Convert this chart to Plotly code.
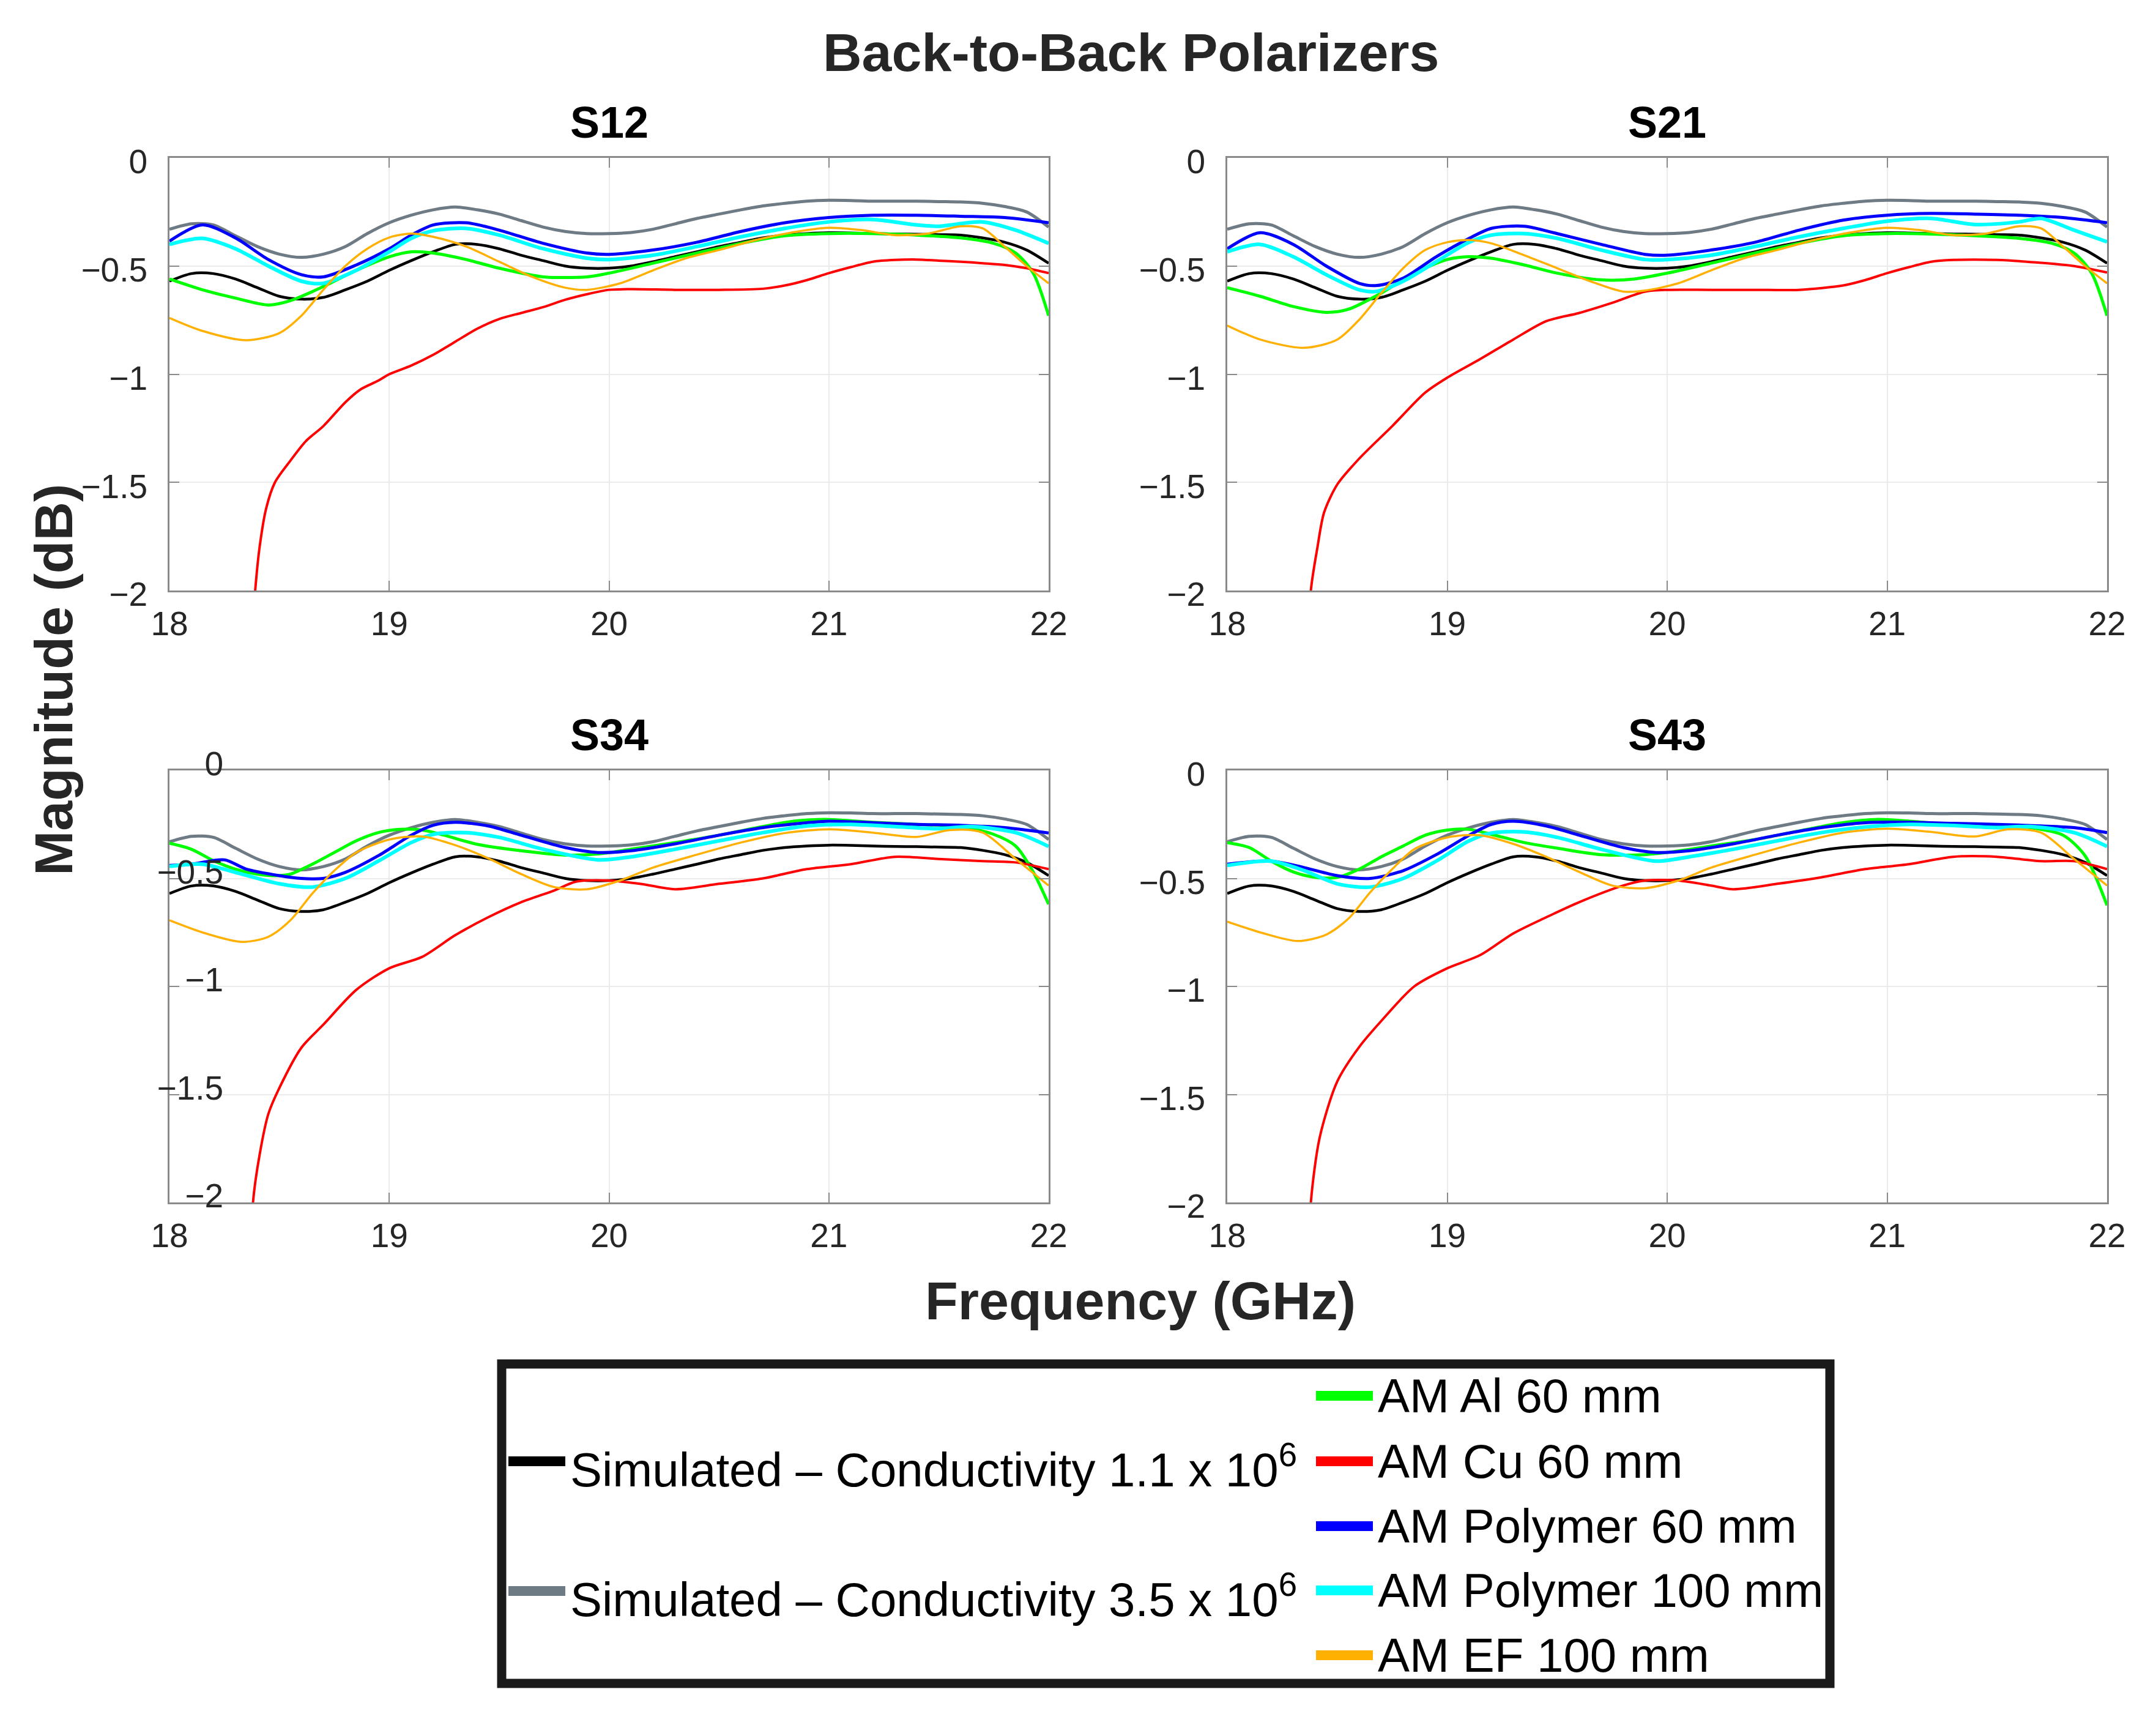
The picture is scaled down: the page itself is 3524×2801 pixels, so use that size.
import plotly.graph_objects as go

# --- simulated curves (same in every panel) ---
freq_sim = [18.0, 18.1, 18.2, 18.3, 18.4, 18.5, 18.6, 18.7, 18.8, 18.9,
            19.0, 19.1, 19.2, 19.3, 19.4, 19.5, 19.6, 19.7, 19.8, 19.9,
            20.0, 20.1, 20.2, 20.3, 20.4, 20.5, 20.6, 20.7, 20.8, 20.9,
            21.0, 21.1, 21.2, 21.3, 21.4, 21.5, 21.6, 21.7, 21.8, 21.9, 22.0]
sim_11 = [-0.57, -0.535, -0.535, -0.56, -0.60, -0.64, -0.653, -0.645, -0.61, -0.57,
          -0.52, -0.475, -0.434, -0.40, -0.40, -0.42, -0.45, -0.475, -0.50, -0.51,
          -0.51, -0.50, -0.48, -0.457, -0.434, -0.41, -0.39, -0.37, -0.357, -0.35,
          -0.346, -0.347, -0.35, -0.352, -0.353, -0.355, -0.357, -0.37, -0.39, -0.426, -0.487]
sim_35 = [-0.33, -0.305, -0.31, -0.36, -0.41, -0.445, -0.46, -0.445, -0.41, -0.35,
          -0.30, -0.265, -0.24, -0.227, -0.24, -0.26, -0.29, -0.32, -0.34, -0.35,
          -0.35, -0.345, -0.33, -0.305, -0.28, -0.26, -0.24, -0.222, -0.21, -0.20,
          -0.196, -0.197, -0.20, -0.20, -0.20, -0.202, -0.204, -0.21, -0.225, -0.25, -0.32]

# --- S12 measured ---
s12_al_f = [18.0, 18.15, 18.3, 18.45, 18.55, 18.7, 18.85, 19.0, 19.1, 19.2, 19.35, 19.5, 19.7, 19.9,
            20.0, 20.2, 20.4, 20.6, 20.8, 21.0, 21.2, 21.4, 21.6, 21.75, 21.85, 21.93, 22.0]
s12_al_db = [-0.56, -0.61, -0.648, -0.68, -0.66, -0.595, -0.52, -0.457, -0.434, -0.44, -0.47, -0.51, -0.55, -0.55,
             -0.533, -0.487, -0.44, -0.395, -0.36, -0.35, -0.35, -0.357, -0.37, -0.395, -0.44, -0.533, -0.73]
s12_cu_f = [18.37, 18.39, 18.41, 18.44, 18.48, 18.55, 18.62, 18.7, 18.8, 18.87, 18.95, 19.0, 19.1, 19.2,
            19.3, 19.4, 19.5, 19.6, 19.7, 19.8, 19.9, 20.0, 20.1, 20.3, 20.5, 20.7, 20.8, 20.9, 21.0,
            21.1, 21.2, 21.3, 21.4, 21.5, 21.6, 21.7, 21.8, 21.9, 22.0]
s12_cu_db = [-2.3, -2.0, -1.8, -1.62, -1.5, -1.4, -1.31, -1.24, -1.13, -1.07, -1.03, -1.0, -0.96, -0.91,
             -0.85, -0.79, -0.745, -0.717, -0.69, -0.656, -0.63, -0.61, -0.607, -0.61, -0.61, -0.605, -0.59, -0.565, -0.533,
             -0.505, -0.48, -0.472, -0.47, -0.475, -0.48, -0.487, -0.495, -0.51, -0.533]
s12_p60_f = [18.0, 18.15, 18.3, 18.45, 18.6, 18.7, 18.85, 19.0, 19.1, 19.2, 19.35, 19.5, 19.7,
             19.9, 20.0, 20.2, 20.4, 20.6, 20.8, 21.0, 21.2, 21.4, 21.6, 21.8, 22.0]
s12_p60_db = [-0.385, -0.31, -0.37, -0.47, -0.54, -0.55, -0.495, -0.42, -0.357, -0.31, -0.30, -0.334, -0.395,
              -0.44, -0.446, -0.426, -0.39, -0.34, -0.30, -0.276, -0.265, -0.265, -0.27, -0.276, -0.30]
s12_p100_f = [18.0, 18.15, 18.3, 18.45, 18.6, 18.7, 18.85, 19.0, 19.1, 19.2, 19.35, 19.5, 19.7,
              19.9, 20.0, 20.2, 20.4, 20.6, 20.8, 21.0, 21.2, 21.4, 21.5, 21.7, 21.85, 22.0]
s12_p100_db = [-0.40, -0.372, -0.42, -0.50, -0.57, -0.58, -0.52, -0.434, -0.372, -0.337, -0.326, -0.357, -0.42,
               -0.464, -0.47, -0.45, -0.41, -0.365, -0.326, -0.296, -0.285, -0.31, -0.316, -0.296, -0.334, -0.395]
s12_ef_f = [18.0, 18.15, 18.35, 18.5, 18.6, 18.7, 18.8, 18.9, 19.0, 19.1, 19.2, 19.35, 19.5, 19.65, 19.8, 19.9,
            20.05, 20.2, 20.35, 20.5, 20.7, 20.9, 21.0, 21.15, 21.3, 21.45, 21.6, 21.7, 21.8, 21.9, 22.0]
s12_ef_db = [-0.74, -0.80, -0.843, -0.81, -0.73, -0.61, -0.50, -0.42, -0.368, -0.35, -0.365, -0.41, -0.48, -0.55, -0.60, -0.61,
             -0.58, -0.52, -0.464, -0.426, -0.372, -0.334, -0.323, -0.334, -0.357, -0.35, -0.316, -0.326, -0.41, -0.50, -0.58]

# --- S21 measured ---
s21_al_f = [18.0, 18.15, 18.3, 18.45, 18.55, 18.7, 18.85, 19.0, 19.1, 19.2, 19.35, 19.5, 19.7, 19.85,
            20.0, 20.2, 20.4, 20.6, 20.8, 21.0, 21.2, 21.4, 21.6, 21.75, 21.85, 21.93, 22.0]
s21_al_db = [-0.60, -0.64, -0.687, -0.714, -0.70, -0.625, -0.533, -0.47, -0.457, -0.464, -0.495, -0.533, -0.564, -0.56,
             -0.533, -0.487, -0.44, -0.395, -0.36, -0.35, -0.352, -0.36, -0.372, -0.395, -0.44, -0.533, -0.73]
s21_cu_f = [18.37, 18.38, 18.41, 18.44, 18.5, 18.6, 18.75, 18.9, 19.0, 19.15, 19.3, 19.45, 19.6, 19.75, 19.9,
            20.0, 20.2, 20.4, 20.6, 20.8, 20.9, 21.0, 21.1, 21.2, 21.3, 21.5, 21.7, 21.85, 22.0]
s21_cu_db = [-2.3, -2.0, -1.8, -1.64, -1.51, -1.39, -1.24, -1.085, -1.016, -0.93, -0.84, -0.755, -0.717, -0.67, -0.618,
             -0.61, -0.61, -0.61, -0.61, -0.59, -0.565, -0.533, -0.505, -0.48, -0.472, -0.472, -0.485, -0.50, -0.53]
s21_p60_f = [18.0, 18.15, 18.3, 18.45, 18.6, 18.68, 18.8, 18.95, 19.1, 19.2, 19.35, 19.5, 19.7,
             19.9, 20.0, 20.2, 20.4, 20.6, 20.8, 21.0, 21.2, 21.4, 21.6, 21.8, 22.0]
s21_p60_db = [-0.42, -0.346, -0.40, -0.50, -0.58, -0.59, -0.556, -0.457, -0.372, -0.326, -0.316, -0.35, -0.40,
              -0.446, -0.45, -0.426, -0.39, -0.334, -0.288, -0.265, -0.257, -0.26, -0.265, -0.276, -0.30]
s21_p100_f = [18.0, 18.15, 18.3, 18.45, 18.6, 18.68, 18.8, 18.95, 19.1, 19.2, 19.35, 19.5, 19.7,
              19.9, 20.0, 20.2, 20.4, 20.6, 20.8, 21.0, 21.2, 21.4, 21.6, 21.7, 21.85, 22.0]
s21_p100_db = [-0.434, -0.40, -0.457, -0.54, -0.61, -0.617, -0.57, -0.48, -0.39, -0.357, -0.35, -0.372, -0.426,
               -0.47, -0.47, -0.45, -0.41, -0.365, -0.326, -0.293, -0.28, -0.308, -0.296, -0.28, -0.334, -0.388]
s21_ef_f = [18.0, 18.15, 18.35, 18.5, 18.6, 18.7, 18.8, 18.9, 19.0, 19.1, 19.2, 19.35, 19.5, 19.65, 19.8, 19.9,
            20.05, 20.2, 20.35, 20.5, 20.7, 20.9, 21.0, 21.15, 21.3, 21.45, 21.6, 21.7, 21.8, 21.9, 22.0]
s21_ef_db = [-0.775, -0.84, -0.878, -0.84, -0.748, -0.625, -0.51, -0.426, -0.39, -0.38, -0.395, -0.45, -0.51, -0.57, -0.618, -0.613,
             -0.58, -0.52, -0.464, -0.426, -0.372, -0.334, -0.323, -0.334, -0.357, -0.35, -0.316, -0.326, -0.41, -0.50, -0.58]

# --- S34 measured ---
s34_al_f = [18.0, 18.1, 18.2, 18.3, 18.4, 18.5, 18.55, 18.65, 18.75, 18.85, 18.95, 19.05, 19.15, 19.25, 19.4,
            19.6, 19.8, 19.95, 20.1, 20.3, 20.5, 20.7, 20.85, 21.0, 21.2, 21.4, 21.6, 21.75, 21.85, 21.93, 22.0]
s34_al_db = [-0.337, -0.365, -0.418, -0.457, -0.48, -0.487, -0.48, -0.434, -0.38, -0.326, -0.288, -0.273, -0.276, -0.30, -0.342,
             -0.372, -0.392, -0.387, -0.365, -0.334, -0.30, -0.26, -0.234, -0.227, -0.24, -0.25, -0.26, -0.296, -0.35, -0.47, -0.62]
s34_cu_f = [18.37, 18.38, 18.41, 18.45, 18.5, 18.6, 18.7, 18.85, 19.0, 19.15, 19.3, 19.45, 19.6, 19.75, 19.85,
            20.0, 20.15, 20.3, 20.5, 20.7, 20.9, 21.1, 21.3, 21.5, 21.7, 21.85, 22.0]
s34_cu_db = [-2.3, -2.0, -1.78, -1.59, -1.47, -1.284, -1.177, -1.016, -0.916, -0.863, -0.763, -0.68, -0.61, -0.556, -0.515,
             -0.51, -0.526, -0.55, -0.525, -0.50, -0.457, -0.434, -0.40, -0.41, -0.42, -0.426, -0.457]
s34_p60_f = [18.0, 18.1, 18.25, 18.35, 18.5, 18.6, 18.7, 18.8, 18.95, 19.1, 19.2, 19.3, 19.45, 19.6,
             19.8, 19.95, 20.1, 20.3, 20.5, 20.7, 20.9, 21.0, 21.2, 21.4, 21.6, 21.8, 22.0]
s34_p60_db = [-0.44, -0.434, -0.414, -0.457, -0.487, -0.50, -0.50, -0.472, -0.395, -0.30, -0.254, -0.24, -0.257, -0.30,
              -0.357, -0.38, -0.372, -0.34, -0.30, -0.265, -0.242, -0.235, -0.242, -0.25, -0.254, -0.265, -0.29]
s34_p100_f = [18.0, 18.15, 18.3, 18.5, 18.65, 18.8, 18.95, 19.1, 19.2, 19.35, 19.5, 19.7, 19.95,
              20.1, 20.3, 20.5, 20.7, 20.9, 21.1, 21.3, 21.5, 21.65, 21.85, 22.0]
s34_p100_db = [-0.444, -0.434, -0.472, -0.525, -0.54, -0.50, -0.42, -0.334, -0.296, -0.288, -0.31, -0.365, -0.414,
               -0.40, -0.365, -0.326, -0.288, -0.257, -0.25, -0.26, -0.27, -0.26, -0.288, -0.352]
s34_ef_f = [18.0, 18.15, 18.33, 18.45, 18.55, 18.65, 18.75, 18.85, 19.0, 19.15, 19.3, 19.45, 19.6, 19.75,
            19.9, 20.05, 20.2, 20.4, 20.6, 20.8, 21.0, 21.2, 21.4, 21.55, 21.7, 21.85, 22.0]
s34_ef_db = [-0.694, -0.75, -0.794, -0.77, -0.694, -0.57, -0.464, -0.38, -0.32, -0.306, -0.346, -0.407, -0.48, -0.54,
             -0.55, -0.51, -0.45, -0.39, -0.334, -0.29, -0.273, -0.288, -0.308, -0.276, -0.288, -0.41, -0.533]

# --- S43 measured ---
s43_al_f = [18.0, 18.1, 18.2, 18.3, 18.4, 18.5, 18.6, 18.7, 18.8, 18.9, 19.0, 19.1, 19.2, 19.35, 19.5,
            19.7, 19.9, 20.0, 20.2, 20.4, 20.6, 20.8, 20.95, 21.1, 21.3, 21.5, 21.65, 21.8, 21.9, 22.0]
s43_al_db = [-0.334, -0.357, -0.42, -0.47, -0.495, -0.495, -0.457, -0.40, -0.35, -0.30, -0.276, -0.273, -0.296, -0.334, -0.36,
             -0.39, -0.39, -0.38, -0.35, -0.32, -0.28, -0.242, -0.227, -0.235, -0.25, -0.255, -0.265, -0.30, -0.395, -0.625]
s43_cu_f = [18.37, 18.38, 18.42, 18.5, 18.6, 18.7, 18.85, 19.0, 19.15, 19.3, 19.45, 19.6, 19.8, 19.9,
            20.05, 20.2, 20.3, 20.5, 20.7, 20.9, 21.1, 21.3, 21.5, 21.7, 21.85, 22.0]
s43_cu_db = [-2.3, -2.0, -1.70, -1.44, -1.28, -1.16, -1.0, -0.916, -0.855, -0.755, -0.68, -0.61, -0.533, -0.51,
             -0.51, -0.533, -0.55, -0.525, -0.495, -0.457, -0.434, -0.40, -0.40, -0.42, -0.42, -0.457]
s43_p60_f = [18.0, 18.2, 18.35, 18.5, 18.65, 18.8, 18.95, 19.1, 19.2, 19.3, 19.45, 19.6, 19.8,
             19.95, 20.1, 20.3, 20.5, 20.7, 20.9, 21.1, 21.3, 21.5, 21.7, 21.85, 22.0]
s43_p60_db = [-0.434, -0.42, -0.45, -0.487, -0.50, -0.464, -0.39, -0.30, -0.25, -0.235, -0.257, -0.30, -0.357,
              -0.38, -0.372, -0.34, -0.30, -0.265, -0.242, -0.24, -0.245, -0.25, -0.257, -0.265, -0.288]
s43_p100_f = [18.0, 18.2, 18.35, 18.5, 18.65, 18.8, 18.95, 19.1, 19.2, 19.35, 19.5, 19.7, 19.95,
              20.1, 20.3, 20.5, 20.7, 20.9, 21.1, 21.3, 21.5, 21.65, 21.85, 22.0]
s43_p100_db = [-0.44, -0.42, -0.464, -0.525, -0.54, -0.50, -0.42, -0.326, -0.29, -0.285, -0.31, -0.365, -0.42,
               -0.40, -0.365, -0.326, -0.288, -0.262, -0.25, -0.255, -0.265, -0.26, -0.288, -0.352]
s43_ef_f = [18.0, 18.15, 18.32, 18.45, 18.55, 18.65, 18.75, 18.85, 19.0, 19.15, 19.3, 19.45, 19.6, 19.75,
            19.9, 20.05, 20.2, 20.4, 20.6, 20.8, 21.0, 21.2, 21.4, 21.55, 21.7, 21.85, 22.0]
s43_ef_db = [-0.70, -0.75, -0.79, -0.76, -0.687, -0.564, -0.457, -0.365, -0.31, -0.30, -0.34, -0.40, -0.47, -0.533,
             -0.545, -0.51, -0.45, -0.39, -0.334, -0.288, -0.27, -0.285, -0.306, -0.273, -0.288, -0.41, -0.533]

panel_names = ["S12", "S21", "S34", "S43"]
sim_labels = ["Simulated – Conductivity 1.1 x 10<sup>6</sup>",
              "Simulated – Conductivity 3.5 x 10<sup>6</sup>"]
meas_labels = ["AM Al 60 mm", "AM Cu 60 mm", "AM Polymer 60 mm",
               "AM Polymer 100 mm", "AM EF 100 mm"]
freq_ticks = [18, 19, 20, 21, 22]
mag_ticks = [-2, -1.5, -1, -0.5, 0]

measured = {
    "S12": [(s12_al_f, s12_al_db), (s12_cu_f, s12_cu_db), (s12_p60_f, s12_p60_db),
            (s12_p100_f, s12_p100_db), (s12_ef_f, s12_ef_db)],
    "S21": [(s21_al_f, s21_al_db), (s21_cu_f, s21_cu_db), (s21_p60_f, s21_p60_db),
            (s21_p100_f, s21_p100_db), (s21_ef_f, s21_ef_db)],
    "S34": [(s34_al_f, s34_al_db), (s34_cu_f, s34_cu_db), (s34_p60_f, s34_p60_db),
            (s34_p100_f, s34_p100_db), (s34_ef_f, s34_ef_db)],
    "S43": [(s43_al_f, s43_al_db), (s43_cu_f, s43_cu_db), (s43_p60_f, s43_p60_db),
            (s43_p100_f, s43_p100_db), (s43_ef_f, s43_ef_db)],
}

# styles
sim_colors = ["#000000", "#6e7a84"]
sim_widths = [4.5, 5]
meas_colors = ["#00ff00", "#ff0000", "#0000ff", "#00ffff", "#ffb000"]
meas_widths = [5, 4, 5, 6, 3.5]

W, H = 3524, 2801
FONT = "Liberation Sans, Arial, Helvetica, sans-serif"


def px(x):
    return x / W


def py(y):
    return 1 - y / H


# panel boxes in pixels: (left, right, top, bottom)
boxes = [(269, 1706, 250, 957), (1998, 3436, 250, 957),
         (269, 1706, 1251, 1957), (1998, 3436, 1251, 1957)]

fig = go.Figure()

for n, name in enumerate(panel_names):
    xa = "x" if n == 0 else f"x{n + 1}"
    ya = "y" if n == 0 else f"y{n + 1}"
    for f_, db, c, w in [(freq_sim, sim_11, sim_colors[0], sim_widths[0]),
                         (freq_sim, sim_35, sim_colors[1], sim_widths[1])]:
        fig.add_trace(go.Scatter(x=f_, y=db, mode="lines", xaxis=xa, yaxis=ya,
                                 line=dict(color=c, width=w, shape="spline", smoothing=0.8),
                                 showlegend=False, hoverinfo="skip"))
    for (f_, db), c, w, lab in zip(measured[name], meas_colors, meas_widths, meas_labels):
        fig.add_trace(go.Scatter(x=f_, y=db, mode="lines", xaxis=xa, yaxis=ya, name=lab,
                                 line=dict(color=c, width=w, shape="spline", smoothing=0.8),
                                 showlegend=False))

axis_common = dict(
    showline=True, linecolor="#8a8a8a", linewidth=3, mirror="allticks",
    ticks="inside", ticklen=16, tickwidth=2, tickcolor="#8a8a8a",
    showgrid=True, gridcolor="#ebebeb", gridwidth=2, zeroline=False,
    automargin=False,
    tickfont=dict(family=FONT, size=55, color="#262626"),
)

layout = dict(
    width=W, height=H, margin=dict(l=0, r=0, t=0, b=0, autoexpand=False),
    paper_bgcolor="white", plot_bgcolor="white", showlegend=False,
    font=dict(family=FONT, color="#000000"),
)

for n, (l, r, t, b) in enumerate(boxes):
    xk = "xaxis" if n == 0 else f"xaxis{n + 1}"
    yk = "yaxis" if n == 0 else f"yaxis{n + 1}"
    xa = "x" if n == 0 else f"x{n + 1}"
    ya = "y" if n == 0 else f"y{n + 1}"
    layout[xk] = dict(axis_common, domain=[px(l), px(r)], range=[18, 22],
                      tickvals=freq_ticks, anchor=ya, ticklabelstandoff=4)
    # the S34 panel has its y labels pushed into the frame, as in the source figure
    layout[yk] = dict(axis_common, domain=[py(b), py(t)], range=[-2, 0],
                      tickvals=mag_ticks, anchor=xa,
                      ticklabelstandoff=(-102 if n == 2 else 22),
                      ticklabelshift=(-11 if n == 2 else 6))

fig.update_layout(**layout)

ann = []
# main title and axis titles
ann.append(dict(text="Back-to-Back Polarizers", x=px(1841), y=py(77), xref="paper", yref="paper",
                xanchor="center", yanchor="middle",
                showarrow=False, font=dict(size=88, weight="bold", color="#262626")))
ann.append(dict(text="Frequency (GHz)", x=px(1856), y=py(2117), xref="paper", yref="paper",
                xanchor="center", yanchor="middle",
                showarrow=False, font=dict(size=88, weight="bold", color="#262626")))
ann.append(dict(text="Magnitude (dB)", x=px(79), y=py(1103), xref="paper", yref="paper",
                xanchor="center", yanchor="middle",
                showarrow=False, textangle=-90, font=dict(size=88, weight="bold", color="#262626")))
# panel titles
for name, (l, r, t, b) in zip(panel_names, boxes):
    ann.append(dict(text=name, x=px((l + r) / 2), y=py(t - 58), xref="paper", yref="paper",
                    xanchor="center", yanchor="middle",
                    showarrow=False, font=dict(size=72, weight="bold", color="#000000")))

shapes = []
# legend frame
shapes.append(dict(type="rect", xref="paper", yref="paper",
                   x0=px(812), x1=px(2983), y0=py(2743), y1=py(2221),
                   line=dict(color="#1a1a1a", width=15), fillcolor="white", layer="below"))
# legend: simulated entries (left column)
for lab, c, yy in zip(sim_labels, sim_colors, [2380, 2592]):
    shapes.append(dict(type="line", xref="paper", yref="paper", x0=px(823), x1=px(916),
                       y0=py(yy), y1=py(yy), line=dict(color=c, width=16)))
    ann.append(dict(text=lab, x=px(922), y=py(yy + 8), xref="paper", yref="paper",
                    xanchor="left", yanchor="middle", showarrow=False,
                    font=dict(size=78, color="#000000")))
# legend: measured entries (right column)
for lab, c, yy in zip(meas_labels, meas_colors, [2273, 2380, 2486, 2591, 2697]):
    shapes.append(dict(type="line", xref="paper", yref="paper", x0=px(2143), x1=px(2236),
                       y0=py(yy), y1=py(yy), line=dict(color=c, width=16)))
    ann.append(dict(text=lab, x=px(2242), y=py(yy), xref="paper", yref="paper",
                    xanchor="left", yanchor="middle", showarrow=False,
                    font=dict(size=78, color="#000000")))

fig.update_layout(annotations=ann, shapes=shapes)

fig.write_html("out.html")
